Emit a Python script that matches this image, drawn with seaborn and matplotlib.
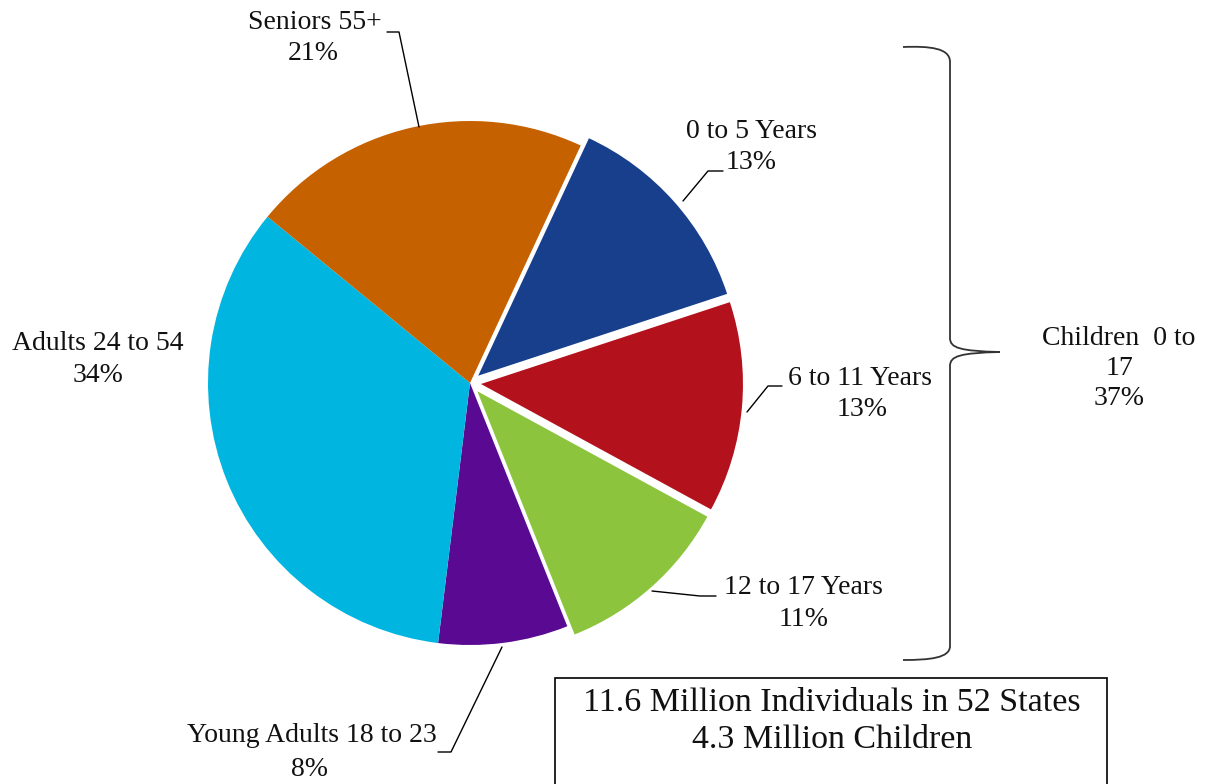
import matplotlib
matplotlib.use("Agg")
import matplotlib.pyplot as plt
from matplotlib.path import Path
from matplotlib.patches import PathPatch, Rectangle
import seaborn as sns

# ---- data ----
categories = ["0 to 5 Years", "6 to 11 Years", "12 to 17 Years",
              "Young Adults 18 to 23", "Adults 24 to 54", "Seniors 55+"]
shares = [13, 13, 11, 8, 34, 21]
exploded = [True, True, True, False, False, False]
colors = ["#173F8C", "#B3111C", "#8CC43E", "#5A0A92", "#00B6E0", "#C66100"]
group_lines = ["Children  0 to", "17", "37%"]
box_lines = ["11.6 Million Individuals in 52 States", "4.3 Million Children"]

sns.set_style("white")
plt.rcParams["font.family"] = ["Liberation Serif", "DejaVu Serif"]

W, H = 1207, 784
fig = plt.figure(figsize=(W / 100, H / 100), dpi=100)
ax = fig.add_axes([0, 0, 1, 1])


def Y(y):
    return H - y


cx, cy, r = 470, 383, 262
ax.pie(shares, colors=colors, startangle=65, counterclock=False,
       explode=[11 if e else 0 for e in exploded],
       center=(cx, Y(cy)), radius=r,
       wedgeprops=dict(linewidth=0))
ax.set_xlim(0, W)
ax.set_ylim(0, H)
ax.set_aspect("equal")
ax.axis("off")

fs = 20
txt = dict(fontsize=fs, color="#111111", ha="center", va="center")
lk = dict(color="black", lw=1)

ax.text(315, Y(22), "Seniors 55+", **txt)
ax.text(313, Y(53), "21%", **txt)
ax.plot([387, 399, 419], [Y(32), Y(32), Y(127)], **lk)

ax.text(751, Y(131), "0 to 5 Years", **txt)
ax.text(751, Y(162), "13%", **txt)
ax.plot([723, 708, 683], [Y(171), Y(171), Y(201)], **lk)

ax.text(860, Y(378), "6 to 11 Years", **txt)
ax.text(862, Y(409), "13%", **txt)
ax.plot([782, 768, 747], [Y(386), Y(386), Y(412)], **lk)

ax.text(803, Y(588), "12 to 17 Years", **txt)
ax.text(804, Y(620), "11%", **txt)
ax.plot([716, 700, 652], [Y(596), Y(596), Y(591)], **lk)

ax.text(312, Y(735), "Young Adults 18 to 23", **txt)
ax.text(310, Y(769), "8%", **txt)
ax.plot([438, 451, 502], [Y(752), Y(752), Y(647)], **lk)

ax.text(98, Y(343), "Adults 24 to 54", **txt)
ax.text(98, Y(375), "34%", **txt)

for i, line in enumerate(group_lines):
    ax.text(1119, Y(338 + 30 * i), line, **txt)

# bracket
verts = [(903, 47), (930, 46), (950, 48), (950, 62),
         (950, 338),
         (950, 348), (960, 351), (1000, 352),
         (960, 353), (950, 356), (950, 366),
         (950, 646),
         (950, 658), (930, 660), (903, 660)]
codes = [Path.MOVETO, Path.CURVE4, Path.CURVE4, Path.CURVE4,
         Path.LINETO,
         Path.CURVE4, Path.CURVE4, Path.CURVE4,
         Path.CURVE4, Path.CURVE4, Path.CURVE4,
         Path.LINETO,
         Path.CURVE4, Path.CURVE4, Path.CURVE4]
ax.add_patch(PathPatch(Path([(x, Y(y)) for x, y in verts], codes),
                       fill=False, edgecolor="#333333", lw=1.3))

# info box
ax.add_patch(Rectangle((555, Y(795)), 552, 795 - 678, fill=False,
                       edgecolor="black", lw=1.2))
ax.text(832, Y(703), box_lines[0], fontsize=24.5, color="#111111",
        ha="center", va="center")
ax.text(832, Y(740), box_lines[1], fontsize=24.5, color="#111111",
        ha="center", va="center")

fig.savefig("out.png", dpi=100, facecolor="white")
